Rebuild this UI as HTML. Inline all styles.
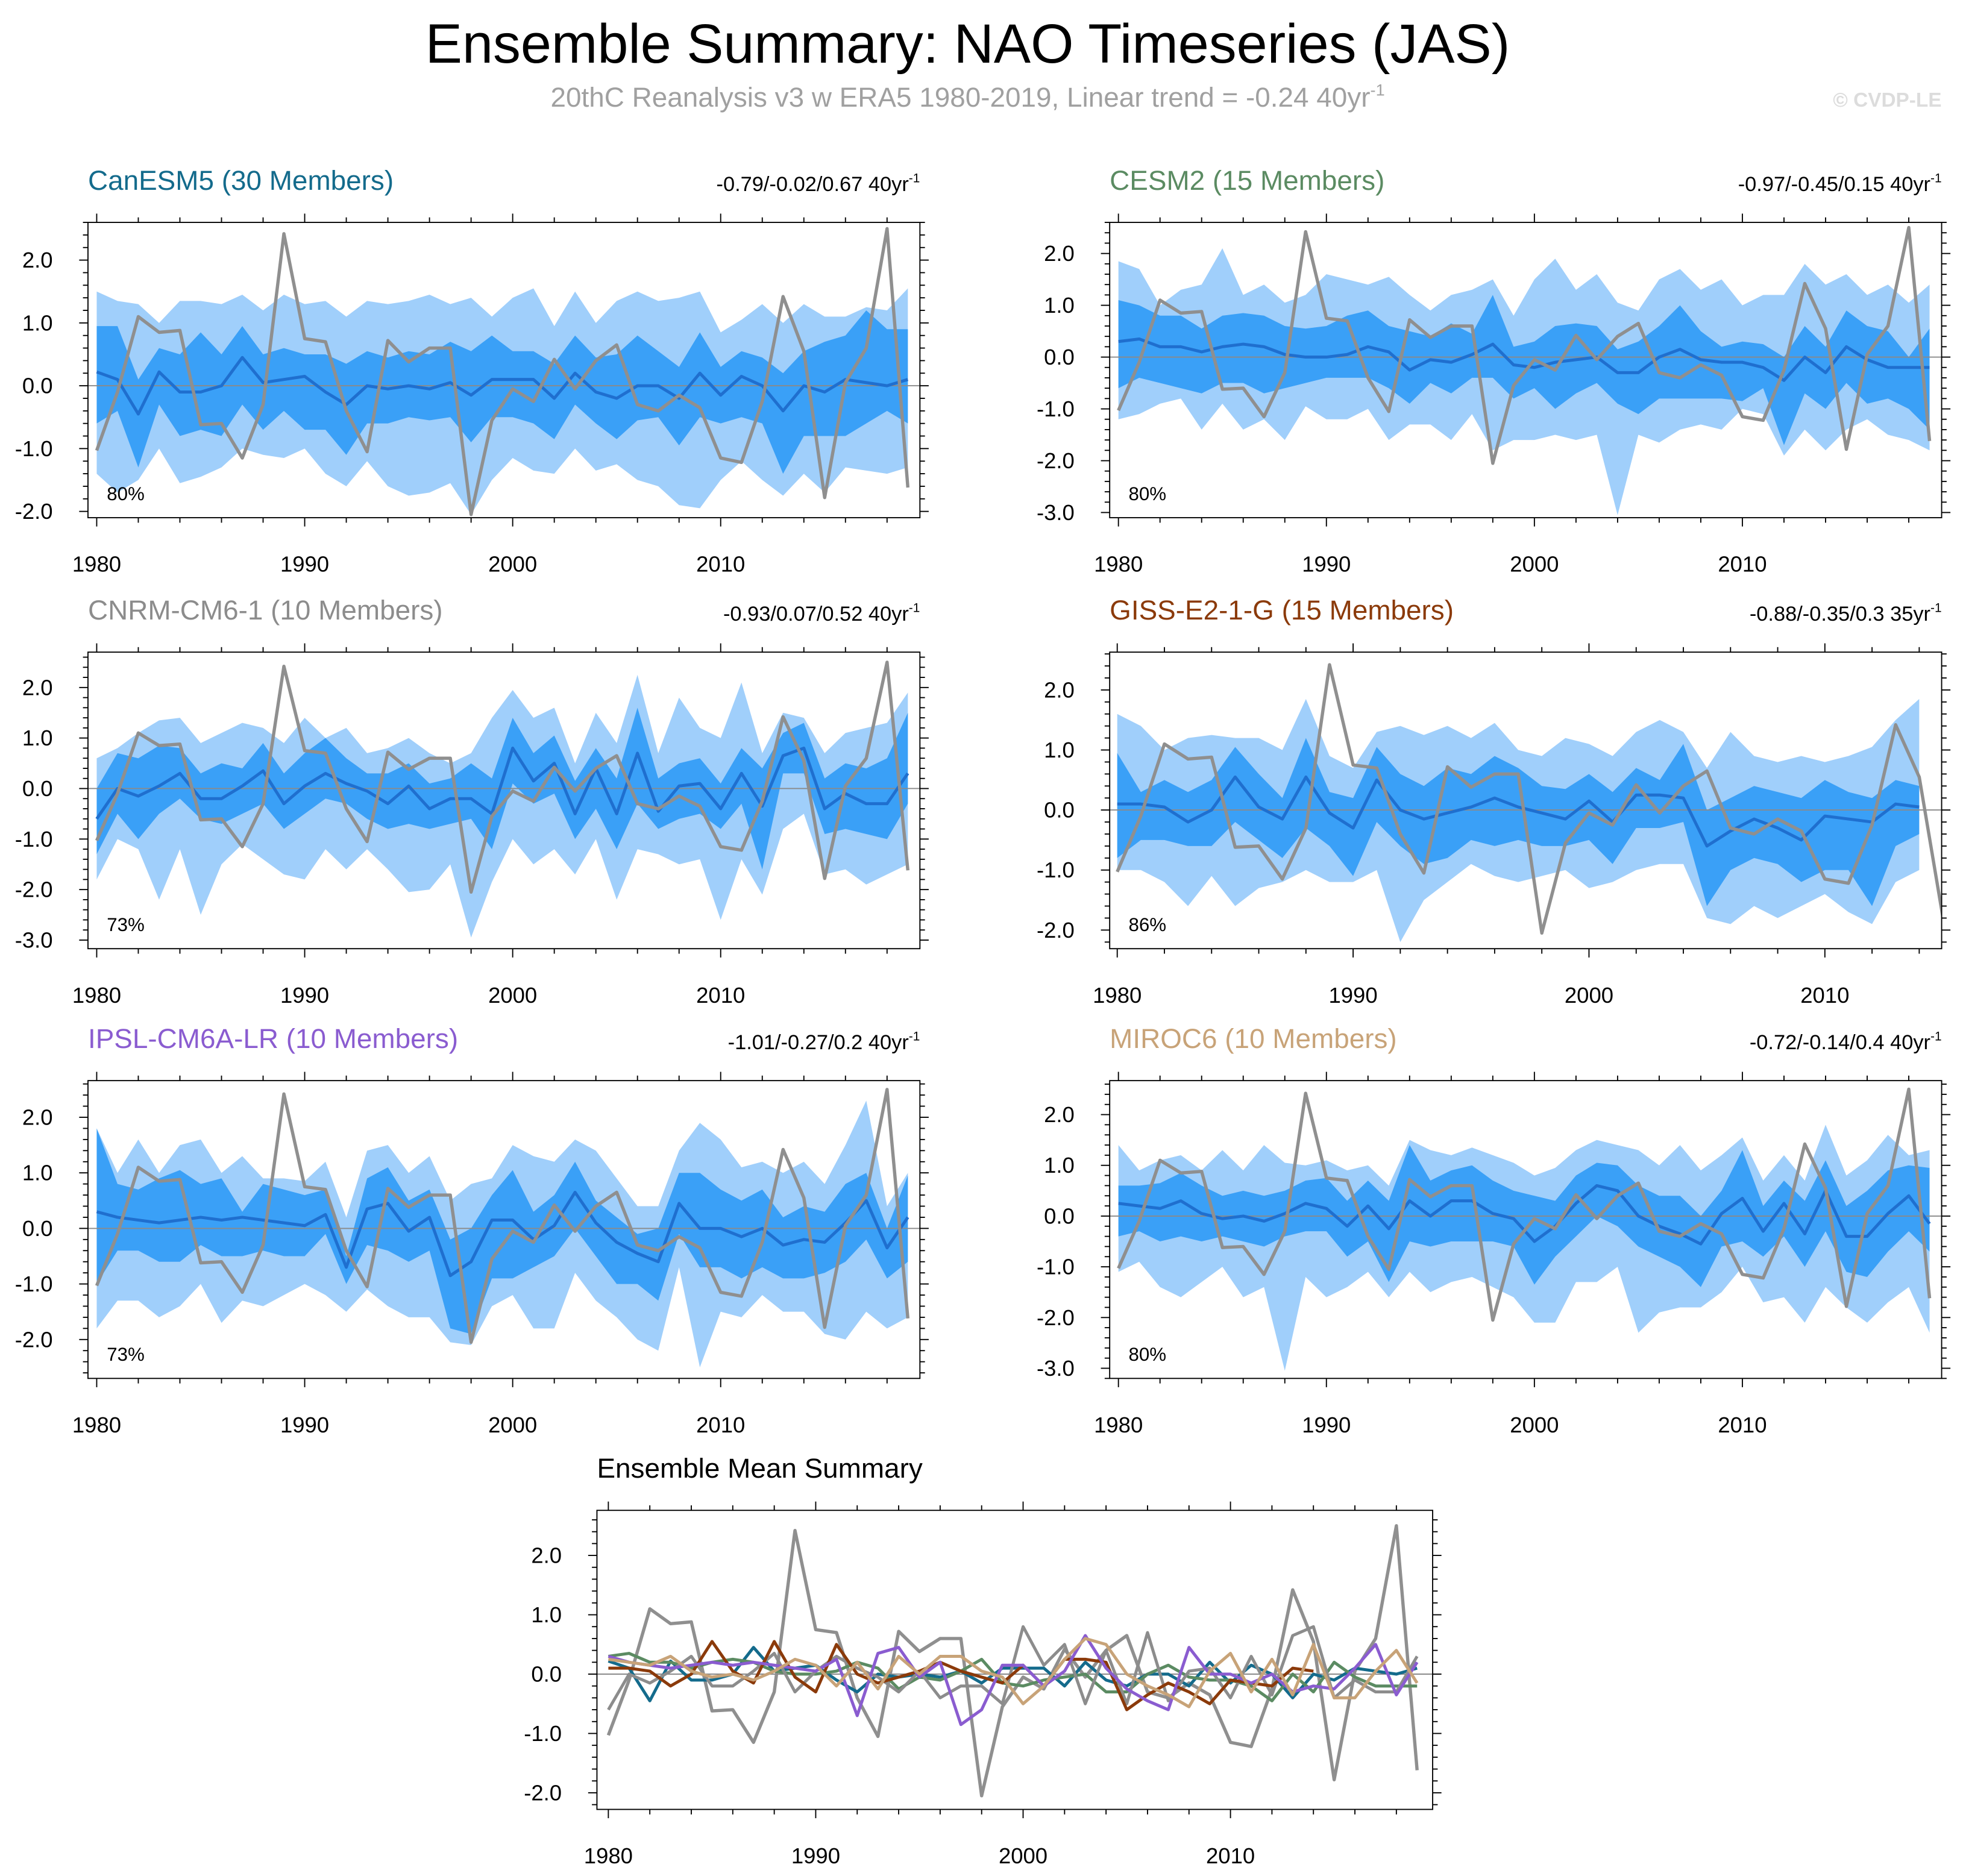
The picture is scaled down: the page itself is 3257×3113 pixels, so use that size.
<!DOCTYPE html>
<html><head><meta charset="utf-8">
<style>
html,body{margin:0;padding:0;background:#fff;}
svg{display:block;}
text{font-family:"Liberation Sans",Arial,sans-serif;}
</style></head>
<body>
<svg id="chart" width="3257" height="3113" viewBox="0 0 1562 1493" preserveAspectRatio="none" xmlns="http://www.w3.org/2000/svg">
<text x="770" y="50" text-anchor="middle" font-size="44" fill="#000">Ensemble Summary: NAO Timeseries (JAS)</text>
<text x="770" y="85" text-anchor="middle" font-size="22" fill="#a0a0a0">20thC Reanalysis v3 w ERA5 1980-2019, Linear trend = -0.24 40yr<tspan font-size="13" dy="-9">-1</tspan></text>
<text x="1545" y="85" text-anchor="end" font-size="16" font-weight="bold" fill="#dcdcdc">© CVDP-LE</text>
</svg>
<script>
// ---- data ----
const obs = [-1.03,-0.1,1.1,0.85,0.88,-0.62,-0.6,-1.15,-0.3,2.42,0.75,0.7,-0.4,-1.05,0.72,0.38,0.6,0.6,-2.05,-0.55,-0.05,-0.25,0.42,-0.05,0.4,0.65,-0.3,-0.4,-0.15,-0.35,-1.15,-1.22,-0.25,1.42,0.55,-1.78,0.05,0.6,2.5,-1.62];

const canMean = [0.22,0.1,-0.45,0.22,-0.1,-0.1,0.0,0.45,0.05,0.1,0.15,-0.1,-0.3,0.0,-0.05,0.0,-0.05,0.05,-0.15,0.1,0.1,0.1,-0.2,0.2,-0.1,-0.2,0.0,0.0,-0.2,0.2,-0.15,0.15,0.0,-0.4,0.0,-0.1,0.1,0.05,0.0,0.1];
const canHi2 = [0.95,0.95,0.1,0.6,0.5,0.85,0.5,0.95,0.5,0.6,0.5,0.5,0.35,0.55,0.45,0.55,0.5,0.7,0.55,0.8,0.55,0.55,0.35,0.8,0.45,0.5,0.8,0.55,0.3,0.85,0.3,0.55,0.45,0.2,0.55,0.7,0.8,1.2,0.9,0.9];
const canLo2 = [-0.6,-0.4,-1.3,-0.3,-0.8,-0.7,-0.8,-0.3,-0.7,-0.4,-0.7,-0.7,-1.1,-0.6,-0.6,-0.5,-0.55,-0.5,-0.9,-0.5,-0.5,-0.6,-0.85,-0.3,-0.6,-0.85,-0.55,-0.5,-0.95,-0.5,-0.6,-0.5,-0.6,-1.4,-0.8,-0.8,-0.8,-0.6,-0.4,-0.6];
const canHi1 = [1.5,1.35,1.3,1.0,1.35,1.35,1.3,1.45,1.2,1.45,1.3,1.35,1.1,1.35,1.3,1.35,1.45,1.3,1.4,1.1,1.4,1.55,0.95,1.5,1.0,1.35,1.5,1.35,1.4,1.5,0.85,1.05,1.3,1.0,1.3,1.1,1.1,1.25,1.2,1.55];
const canLo1 = [-1.4,-1.7,-1.5,-1.0,-1.55,-1.45,-1.3,-1.0,-1.1,-1.15,-1.0,-1.4,-1.6,-1.2,-1.6,-1.75,-1.7,-1.55,-2.05,-1.5,-1.15,-1.35,-1.4,-1.0,-1.35,-1.25,-1.5,-1.6,-1.9,-1.95,-1.5,-1.2,-1.5,-1.75,-1.4,-1.7,-1.3,-1.35,-1.4,-1.3];

const cesmMean = [0.3,0.35,0.2,0.2,0.1,0.2,0.25,0.2,0.05,0.0,0.0,0.05,0.2,0.1,-0.25,-0.05,-0.1,0.05,0.25,-0.15,-0.2,-0.1,-0.05,0.0,-0.3,-0.3,0.0,0.15,-0.05,-0.1,-0.1,-0.2,-0.45,0.0,-0.3,0.2,-0.05,-0.2,-0.2,-0.2];
const cesmHi2 = [1.1,1.0,0.8,0.8,0.55,0.8,0.85,0.8,0.6,0.55,0.6,0.8,0.9,0.6,0.5,0.4,0.65,0.45,1.2,0.2,0.3,0.6,0.65,0.6,0.15,0.3,0.6,1.0,0.5,0.2,0.3,0.25,0.0,0.6,0.2,0.9,0.6,0.5,0.0,0.55];
const cesmLo2 = [-0.6,-0.4,-0.5,-0.6,-0.7,-0.5,-0.5,-0.7,-0.6,-0.5,-0.4,-0.4,-0.4,-0.6,-0.9,-0.5,-0.7,-0.4,-0.4,-0.8,-0.6,-1.0,-0.7,-0.5,-0.9,-1.1,-0.8,-0.8,-0.8,-0.8,-0.85,-0.6,-1.7,-0.7,-1.0,-0.5,-0.9,-0.8,-1.0,-1.4];
const cesmHi1 = [1.85,1.7,1.0,1.3,1.4,2.1,1.2,1.4,1.05,1.2,1.6,1.5,1.4,1.55,1.2,0.9,1.2,1.3,1.5,0.8,1.5,1.9,1.3,1.6,1.05,0.9,1.5,1.7,1.3,1.5,1.0,1.2,1.2,1.8,1.4,1.6,1.2,1.4,1.05,1.4];
const cesmLo1 = [-1.2,-1.1,-0.9,-0.8,-1.4,-0.9,-1.4,-1.2,-1.6,-0.95,-1.2,-1.2,-1.0,-1.6,-1.3,-1.3,-1.6,-1.1,-1.8,-1.6,-1.6,-1.5,-1.6,-1.5,-3.05,-1.5,-1.65,-1.4,-1.3,-1.4,-1.0,-1.1,-1.9,-1.4,-1.8,-1.4,-1.2,-1.5,-1.6,-1.8];

const cnrmMean = [-0.6,0.0,-0.15,0.05,0.3,-0.2,-0.2,0.05,0.35,-0.3,0.05,0.3,0.1,-0.05,-0.3,0.05,-0.4,-0.2,-0.2,-0.5,0.8,0.15,0.5,-0.5,0.4,-0.5,0.7,-0.45,0.05,0.1,-0.4,0.3,-0.35,0.65,0.8,-0.4,-0.1,-0.3,-0.3,0.3];
const cnrmHi2 = [0.0,0.7,0.6,0.85,0.8,0.3,0.5,0.4,0.9,0.3,0.7,1.0,0.6,0.3,0.3,0.5,0.1,0.2,0.5,0.2,1.4,0.7,1.05,0.15,0.8,0.2,1.6,0.2,0.5,0.6,0.1,0.8,0.4,1.1,1.3,0.2,0.5,0.4,0.6,1.5];
const cnrmLo2 = [-1.3,-0.5,-1.0,-0.5,-0.2,-0.6,-0.7,-0.5,-0.3,-0.8,-0.5,-0.2,-0.3,-0.6,-0.8,-0.7,-0.8,-0.7,-0.6,-1.2,0.1,-0.3,-0.1,-1.0,-0.4,-1.2,-0.3,-0.8,-0.6,-0.5,-0.8,-0.3,-1.6,0.3,0.3,-0.9,-0.8,-0.9,-1.0,-0.3];
const cnrmHi1 = [0.6,0.8,1.1,1.35,1.4,0.9,1.1,1.3,1.2,0.9,1.4,1.0,1.2,0.7,0.8,1.0,0.7,0.5,0.7,1.4,1.95,1.4,1.6,0.5,1.5,0.9,2.25,0.7,1.8,1.2,1.0,2.1,0.7,1.5,1.4,0.7,1.1,1.2,1.3,1.9];
const cnrmLo1 = [-1.8,-1.0,-1.2,-2.2,-1.2,-2.5,-1.5,-1.1,-1.4,-1.7,-1.8,-1.2,-1.6,-1.2,-1.6,-2.05,-2.0,-1.5,-2.95,-1.85,-1.0,-1.5,-1.2,-1.7,-1.0,-2.2,-1.2,-1.3,-1.5,-1.4,-2.6,-1.4,-2.1,-0.8,-0.5,-1.7,-1.6,-1.9,-1.7,-1.5];

const gissMean = [0.1,0.1,0.05,-0.2,0.0,0.55,0.05,-0.15,0.55,-0.05,-0.3,0.5,0.0,-0.15,-0.05,0.05,0.2,0.05,-0.05,-0.15,0.15,-0.2,0.25,0.25,0.2,-0.6,-0.35,-0.15,-0.3,-0.5,-0.1,-0.15,-0.2,0.1,0.05];
const gissHi2 = [0.95,0.3,0.5,0.3,0.5,1.05,0.6,0.2,1.2,0.3,0.2,1.05,0.6,0.4,0.7,0.6,0.9,0.7,0.4,0.35,0.6,0.3,0.7,0.5,1.1,0.0,0.2,0.4,0.3,0.2,0.5,0.3,0.2,0.5,0.4];
const gissLo2 = [-0.8,-0.5,-0.5,-0.6,-0.6,-0.2,-0.5,-0.8,-0.3,-0.6,-1.1,-0.2,-0.6,-0.9,-0.8,-0.5,-0.6,-0.5,-0.6,-0.6,-0.5,-0.9,-0.3,-0.3,-0.2,-1.6,-1.0,-0.8,-0.9,-1.2,-1.0,-1.0,-1.6,-0.6,-0.4];
const gissHi1 = [1.6,1.4,1.0,1.2,1.25,1.2,1.2,1.0,1.85,0.9,0.7,1.3,1.4,1.25,1.4,1.2,1.45,1.0,0.9,1.2,1.1,0.9,1.3,1.5,1.3,0.7,1.3,0.9,0.8,0.9,0.8,0.9,1.05,1.5,1.85];
const gissLo1 = [-1.0,-1.0,-1.2,-1.6,-1.1,-1.6,-1.3,-1.2,-1.0,-1.2,-1.2,-1.0,-2.2,-1.5,-1.2,-0.9,-1.1,-1.2,-1.1,-1.0,-1.3,-1.2,-1.0,-0.9,-0.9,-1.8,-1.9,-1.6,-1.8,-1.6,-1.4,-1.7,-1.9,-1.2,-1.0];

const ipslMean = [0.3,0.2,0.15,0.1,0.15,0.2,0.15,0.2,0.15,0.1,0.05,0.25,-0.7,0.35,0.45,-0.05,0.2,-0.85,-0.6,0.15,0.15,-0.2,0.05,0.65,0.1,-0.25,-0.45,-0.6,0.45,0.0,0.0,-0.15,0.0,-0.3,-0.2,-0.25,0.1,0.5,-0.35,0.2];
const ipslHi2 = [1.8,0.8,0.7,0.9,1.05,0.8,0.9,0.3,0.8,0.7,0.6,0.7,-0.5,0.9,1.1,0.5,0.7,-0.2,0.0,0.6,1.05,0.3,0.6,1.2,0.5,0.2,-0.1,0.0,1.0,1.0,0.7,0.5,0.7,0.2,0.4,0.3,0.8,1.0,0.0,0.95];
const ipslLo2 = [-1.0,-0.4,-0.4,-0.6,-0.6,-0.3,-0.5,-0.5,-0.4,-0.5,-0.5,-0.1,-1.0,-0.3,-0.4,-0.6,-0.4,-1.8,-1.9,-0.9,-0.9,-0.7,-0.5,0.0,-0.5,-1.0,-1.0,-1.3,-0.1,-0.7,-0.7,-0.9,-0.7,-0.9,-0.9,-0.8,-0.6,-0.2,-0.9,-0.6];
const ipslHi1 = [1.8,1.0,1.6,1.0,1.5,1.6,1.0,1.3,0.9,0.9,0.85,1.2,0.2,1.4,1.5,1.0,1.3,0.5,0.8,0.9,1.5,1.3,1.2,1.6,1.4,0.9,0.4,0.4,1.4,1.9,1.6,1.1,1.2,1.0,1.2,0.8,1.5,2.3,0.4,1.0];
const ipslLo1 = [-1.8,-1.3,-1.3,-1.6,-1.4,-1.0,-1.7,-1.3,-1.4,-1.2,-1.0,-1.2,-1.5,-1.1,-1.4,-1.6,-1.6,-2.05,-2.1,-1.4,-1.2,-1.8,-1.8,-0.8,-1.3,-1.6,-2.0,-2.2,-0.7,-2.5,-1.5,-1.6,-1.2,-1.5,-1.5,-1.9,-2.0,-1.5,-1.8,-1.6];

const mirocMean = [0.25,0.2,0.15,0.3,0.05,-0.05,0.0,-0.1,0.05,0.25,0.15,-0.2,0.2,-0.25,0.3,0.0,0.3,0.3,0.05,-0.05,-0.5,-0.2,0.25,0.6,0.5,0.0,-0.2,-0.35,-0.55,0.05,0.35,-0.3,0.25,-0.35,0.5,-0.4,-0.4,0.05,0.4,-0.15];
const mirocHi2 = [0.6,0.6,0.65,0.85,0.6,0.4,0.5,0.4,0.5,0.7,0.75,0.3,0.7,0.3,1.4,0.7,0.9,1.0,0.7,0.5,0.4,0.3,0.8,1.05,1.0,0.6,0.4,0.4,0.0,0.5,1.3,0.2,0.7,0.3,1.1,0.2,0.5,0.9,1.0,0.95];
const mirocLo2 = [-0.4,-0.3,-0.5,-0.4,-0.5,-0.4,-0.5,-0.6,-0.4,-0.3,-0.3,-0.8,-0.5,-1.3,-0.5,-0.6,-0.5,-0.5,-0.5,-0.6,-1.35,-0.8,-0.4,0.0,-0.2,-0.6,-0.8,-1.0,-1.4,-0.6,-0.5,-0.8,-0.4,-1.0,-0.3,-1.1,-1.2,-0.7,-0.3,-0.7];
const mirocHi1 = [1.4,0.9,1.1,1.2,0.9,1.3,0.9,1.4,1.05,1.0,1.1,0.9,1.0,0.6,1.5,1.3,1.2,1.35,1.2,1.05,0.8,0.95,1.3,1.5,1.4,1.3,1.0,1.4,0.9,1.2,1.55,0.7,1.2,0.7,1.8,0.8,1.1,1.6,1.2,1.3];
const mirocLo1 = [-1.1,-0.9,-1.4,-1.6,-1.3,-1.0,-1.6,-1.4,-3.05,-1.2,-1.6,-1.4,-1.1,-1.6,-1.1,-1.5,-1.3,-1.2,-1.4,-1.6,-2.1,-2.1,-1.3,-1.3,-1.0,-2.3,-1.9,-1.8,-1.8,-1.5,-1.0,-1.7,-1.6,-2.1,-1.4,-1.8,-2.1,-1.7,-1.4,-2.3];

const xTickLabels = [1980,1990,2000,2010];

// ---- drawing ----
const NS = "http://www.w3.org/2000/svg";
const svg = document.getElementById("chart");
function mk(tag, attrs, parent){
  const e = document.createElementNS(NS, tag);
  for (const k in attrs) e.setAttribute(k, attrs[k]);
  (parent||svg).appendChild(e);
  return e;
}
function makeAxes(box, xr, yr){
  const xs = y => box.x0 + (y - xr[0]) / (xr[1] - xr[0]) * (box.x1 - box.x0);
  const ys = v => box.y1 - (v - yr[0]) / (yr[1] - yr[0]) * (box.y1 - box.y0);
  return {xs, ys};
}
function drawFrame(g, box, xr, yr, yTicks, ax){
  const tk = mk("g", {stroke:"#000","stroke-width":"0.9"}, g);
  
  
  for (let v = Math.ceil(yr[0]*5)/5; v <= yr[1]+1e-9; v += 0.2){
    const vv = Math.round(v*10)/10;
    const major = Math.abs(vv - Math.round(vv)) < 1e-6 && yTicks.includes(Math.round(vv));
    const L = major ? 7 : 4;
    const y = ax.ys(vv);
    mk("line", {x1:box.x0-L, x2:box.x0, y1:y, y2:y}, tk);
    mk("line", {x1:box.x1, x2:box.x1+L, y1:y, y2:y}, tk);
  }
  for (const t of yTicks){
    const lab = mk("text", {x:box.x0-28, y:ax.ys(t)+6, "text-anchor":"end","font-size":"17.5",fill:"#000"}, g);
    
    
    lab.textContent = t.toFixed(1);
  }
  for (let yr2 = Math.ceil(xr[0]); yr2 <= xr[1]; yr2 += 1){
    const major = yr2 % 10 === 0;
    if (!major && yr2 % 2 !== 0) continue;
    const L = major ? 7 : 4;
    const x = ax.xs(yr2);
    mk("line", {x1:x, x2:x, y1:box.y1, y2:box.y1+L}, tk);
    mk("line", {x1:x, x2:x, y1:box.y0-L, y2:box.y0}, tk);
  }
  for (const t of xTickLabels){
    const lab = mk("text", {x:ax.xs(t), y:box.y1+43, "text-anchor":"middle","font-size":"17.5",fill:"#000"}, g);
    
    
    lab.textContent = t;
  }
  const fr = mk("rect", {x:box.x0, y:box.y0, width:box.x1-box.x0, height:box.y1-box.y0, fill:"none", stroke:"#000", "stroke-width":"0.9"}, g);
  
  
}
function band(g, ax, lo, hi, fill, name){
  let d = "";
  hi.forEach((v,i)=>{ d += (i?"L":"M") + ax.xs(1980+i).toFixed(2) + "," + ax.ys(v).toFixed(2); });
  for (let i = lo.length-1; i >= 0; i--) d += "L" + ax.xs(1980+i).toFixed(2) + "," + ax.ys(lo[i]).toFixed(2);
  const p = mk("path", {d:d+"Z", fill:fill, stroke:"none"}, g);
  
  
}
function line(g, ax, vals, color, w, name){
  const pts = vals.map((v,i)=> ax.xs(1980+i).toFixed(2)+","+ax.ys(v).toFixed(2)).join(" ");
  const p = mk("polyline", {points:pts, fill:"none", stroke:color, "stroke-width":w, "stroke-linejoin":"round"}, g);
  
  
}

const panels = [
  {id:"canesm5", title:"CanESM5 (30 Members)", color:"#146b8c", right:"-0.79/-0.02/0.67 40yr", pct:"80%", box:{x0:70,x1:732,y0:177,y1:412}, xr:[1979.58,2019.58], yr:[-2.1,2.6], yt:[-2,-1,0,1,2], m:canMean,h2:canHi2,l2:canLo2,h1:canHi1,l1:canLo1},
  {id:"cesm2", title:"CESM2 (15 Members)", color:"#5b8b62", right:"-0.97/-0.45/0.15 40yr", pct:"80%", box:{x0:883,x1:1545,y0:177,y1:412}, xr:[1979.58,2019.58], yr:[-3.1,2.6], yt:[-3,-2,-1,0,1,2], m:cesmMean,h2:cesmHi2,l2:cesmLo2,h1:cesmHi1,l1:cesmLo1},
  {id:"cnrm-cm6-1", title:"CNRM-CM6-1 (10 Members)", color:"#8c8c8c", right:"-0.93/0.07/0.52 40yr", pct:"73%", box:{x0:70,x1:732,y0:519,y1:755}, xr:[1979.58,2019.58], yr:[-3.17,2.7], yt:[-3,-2,-1,0,1,2], m:cnrmMean,h2:cnrmHi2,l2:cnrmLo2,h1:cnrmHi1,l1:cnrmLo1},
  {id:"giss-e2-1-g", title:"GISS-E2-1-G (15 Members)", color:"#8b3a0a", right:"-0.88/-0.35/0.3 35yr", pct:"86%", box:{x0:883,x1:1545,y0:519,y1:755}, xr:[1979.68,2014.95], yr:[-2.31,2.63], yt:[-2,-1,0,1,2], m:gissMean,h2:gissHi2,l2:gissLo2,h1:gissHi1,l1:gissLo1},
  {id:"ipsl-cm6a-lr", title:"IPSL-CM6A-LR (10 Members)", color:"#8a5cd0", right:"-1.01/-0.27/0.2 40yr", pct:"73%", box:{x0:70,x1:732,y0:860,y1:1097}, xr:[1979.58,2019.58], yr:[-2.7,2.66], yt:[-2,-1,0,1,2], m:ipslMean,h2:ipslHi2,l2:ipslLo2,h1:ipslHi1,l1:ipslLo1},
  {id:"miroc6", title:"MIROC6 (10 Members)", color:"#c8a378", right:"-0.72/-0.14/0.4 40yr", pct:"80%", box:{x0:883,x1:1545,y0:860,y1:1097}, xr:[1979.58,2019.58], yr:[-3.2,2.67], yt:[-3,-2,-1,0,1,2], m:mirocMean,h2:mirocHi2,l2:mirocLo2,h1:mirocHi1,l1:mirocLo1}
];

panels.forEach(P=>{
  const g = mk("g", {});
  
  
  const ax = makeAxes(P.box, P.xr, P.yr);
  const cid = "clip-" + P.id;
  const cp = mk("clipPath", {id:cid}, g);
  mk("rect", {x:P.box.x0, y:P.box.y0, width:P.box.x1-P.box.x0, height:P.box.y1-P.box.y0}, cp);
  const inner = mk("g", {"clip-path":"url(#"+cid+")"}, g);
  
  
  band(inner, ax, P.l1, P.h1, "#a0cffb", "range-10-90-band");
  band(inner, ax, P.l2, P.h2, "#3aa0f7", "range-25-75-band");
  const z = mk("line", {x1:P.box.x0, x2:P.box.x1, y1:ax.ys(0), y2:ax.ys(0), stroke:"#8a8a8a", "stroke-width":"0.9"}, inner);
  
  
  line(inner, ax, P.m, "#1f6fcf", 2.4, "ensemble-mean-line");
  line(inner, ax, obs, "#8f8f8f", 2.6, "observed-nao-line");
  drawFrame(g, P.box, P.xr, P.yr, P.yt, ax);
  const t = mk("text", {x:P.box.x0, y:P.box.y0-26, "font-size":"22", fill:P.color}, g);
  
  
  t.textContent = P.title;
  const r = mk("text", {x:P.box.x1, y:P.box.y0-25, "text-anchor":"end", "font-size":"16.5", fill:"#000"}, g);
  
  
  r.textContent = P.right;
  const sup = mk("tspan", {"font-size":"10", dy:"-7"}, r);
  sup.textContent = "-1";
  const pc = mk("text", {x:P.box.x0+15, y:P.box.y1-14, "font-size":"15", fill:"#000"}, g);
  
  
  pc.textContent = P.pct;
});

(function(){
  const box = {x0:475,x1:1140,y0:1202,y1:1440};
  const xr = [1979.45,2019.75], yr = [-2.28,2.76], yt = [-2,-1,0,1,2];
  const g = mk("g", {});
  
  
  const ax = makeAxes(box, xr, yr);
  const cp = mk("clipPath", {id:"clip-summary"}, g);
  mk("rect", {x:box.x0, y:box.y0, width:box.x1-box.x0, height:box.y1-box.y0}, cp);
  const inner = mk("g", {"clip-path":"url(#clip-summary)"}, g);
  
  
  const z = mk("line", {x1:box.x0, x2:box.x1, y1:ax.ys(0), y2:ax.ys(0), stroke:"#8a8a8a", "stroke-width":"0.9"}, inner);
  
  
  line(inner, ax, obs, "#8f8f8f", 2.6, "observed-nao-line");
  panels.forEach(P=>{ line(inner, ax, P.m, P.color, 2.4, P.id + "-mean-line"); });
  drawFrame(g, box, xr, yr, yt, ax);
  const t = mk("text", {x:box.x0, y:box.y0-26, "font-size":"22", fill:"#000"}, g);
  
  
  t.textContent = "Ensemble Mean Summary";
})();
</script>
</body></html>
